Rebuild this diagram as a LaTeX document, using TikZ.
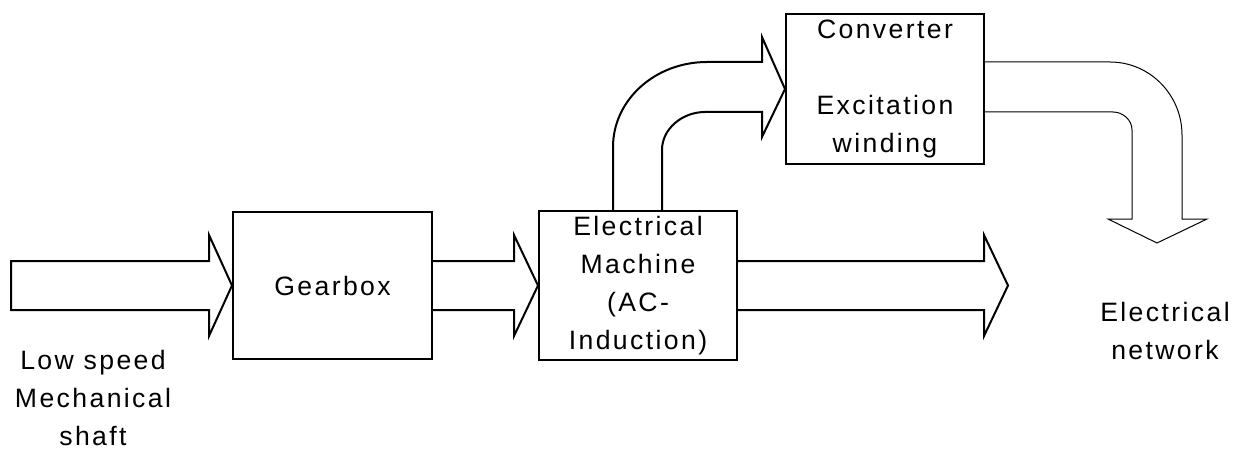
\documentclass[tikz,border=0pt]{standalone}
\usepackage{fontspec}
\setmainfont{Liberation Sans}[LetterSpace=9]
\begin{document}
\begin{tikzpicture}[x=0.5pt,y=-0.5pt,font=\fontsize{13.3}{19}\selectfont,
  box/.style={draw,line width=1pt,align=center,inner sep=0pt},
  lbl/.style={align=center,inner sep=0pt},
  fat/.style={draw,line width=1pt},
  thin/.style={draw,line width=0.5pt}]
\useasboundingbox (0,0) rectangle (1236,449);
\node[box,minimum width=99.5pt,minimum height=73.5pt] (gearbox) at (332.5,285.5) {Gearbox};
\node[box,minimum width=99pt,minimum height=74.5pt] (machine) at (638,285.5) {Electrical\\Machine\\(AC-\\Induction)};
\node[box,minimum width=99pt,minimum height=75pt] (converter) at (885,89) {Converter\\[19pt]Excitation\\winding};
\node[lbl] (shaft) at (93,398) {Low speed\\Mechanical\\shaft};
\node[lbl] (network) at (1165,331) {Electrical\\network};
\coordinate (tail) at (11,285.5);
\coordinate (out) at (1008,285.5);
\coordinate (net) at (1157,243);
\draw[fat] (tail |- 0,261) -- (209,261) -- (209,235) -- (gearbox.west) -- (209,336) -- (209,310) -- (tail |- 0,310) -- cycle;
\draw[fat] (gearbox.east |- 0,261) -- (514,261) -- (514,235) -- (machine.west) -- (514,336) -- (514,310) -- (gearbox.east |- 0,310);
\draw[fat] (machine.east |- 0,261) -- (984,261) -- (984,235) -- (out) -- (984,336) -- (984,310) -- (machine.east |- 0,310);
\draw[fat] (machine.north -| 613,0) -- (613,147) .. controls (613,100) and (655,62) .. (707,62) -- (762,62) -- (762,37) -- (converter.west) -- (762,137) -- (762,112) -- (705,112) .. controls (682,112) and (662,129) .. (662,150) -- (machine.north -| 662,0);
\draw[thin] (converter.east |- 0,62) -- (1110,62) .. controls (1150,62) and (1182,95) .. (1182,135) -- (1182,219) -- (1207,219) -- (net) -- (1108,219) -- (1132,219) -- (1132,130) .. controls (1132,120) and (1123,112) .. (1113,112) -- (converter.east |- 0,112);
\end{tikzpicture}
\end{document}
